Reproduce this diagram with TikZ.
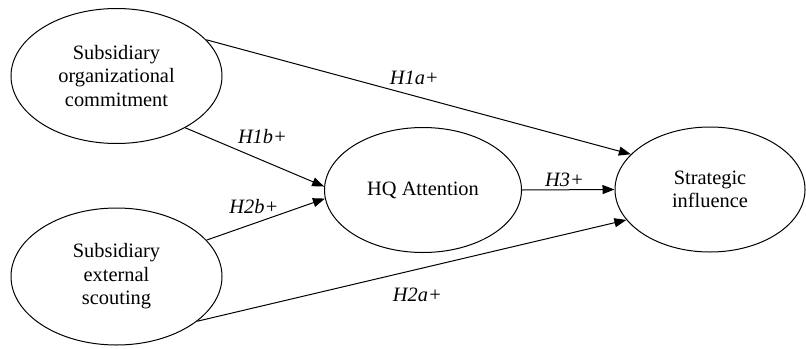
\documentclass[tikz,border=0pt]{standalone}
\usepackage{fontspec}
\setmainfont{Liberation Serif}
\usetikzlibrary{arrows.meta,positioning,shapes.geometric}

\begin{document}
\begin{tikzpicture}[
    x=0.5pt, y=-0.5pt,
    construct/.style={ellipse, draw, line width=0.5pt, font=\fontsize{10.2}{11.8}\selectfont, align=center, inner sep=0pt},
    hyp/.style={font=\fontsize{10.2}{12}\selectfont\itshape, inner sep=1.5pt},
    arrow/.style={-{Triangle[length=6pt,width=4.5pt]}, line width=0.5pt},
]
\useasboundingbox (0,0) rectangle (806,348);
\node[construct, minimum width=105.5pt, minimum height=67.5pt] (commit) at (116.5,76) {Subsidiary\\organizational\\commitment};
\node[construct, minimum width=105.5pt, minimum height=68.5pt] (scout) at (116.5,276.5) {Subsidiary\\external\\scouting};
\node[construct, minimum width=98.5pt, minimum height=62.5pt] (hq) at (423,190) {HQ Attention};
\node[construct, minimum width=95pt, minimum height=62.5pt] (infl) at (710,189.5) {Strategic\\influence};
\draw[arrow] (commit.22.6) -- node[hyp, pos=0.49, above=3.8pt] {H1a+} (infl.156);
\draw[arrow] (commit.-37.5) -- node[hyp, pos=0.556, above=6.5pt] {H1b+} (hq.178);
\draw[arrow] (scout.22.4) -- node[hyp, pos=0.4, above=3.3pt] {H2b+} (hq.185);
\draw[arrow] (hq.east) -- node[hyp, pos=0.46, above] {H3+} (infl.west);
\draw[arrow] (scout.-29.5) -- node[hyp, pos=0.513, below=7.5pt] {H2a+} (infl.200.3);
\end{tikzpicture}
\end{document}
